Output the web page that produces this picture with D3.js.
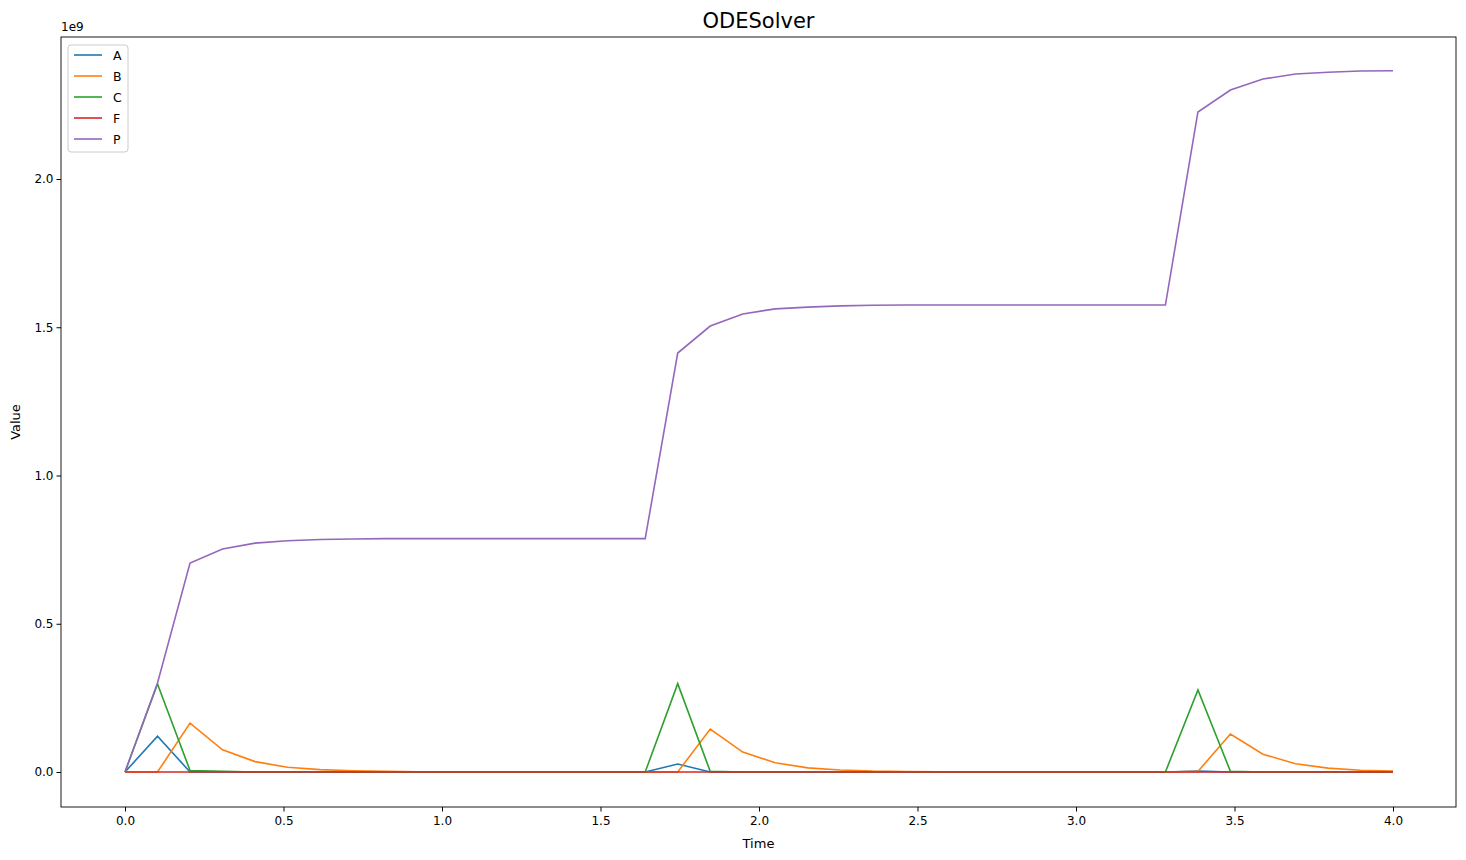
<!DOCTYPE html>
<html><head><meta charset="utf-8">
<script src="https://cdn.jsdelivr.net/npm/d3@7"></script>
<style>body{margin:0;background:#fff;font-family:"DejaVu Sans",sans-serif}</style>
</head><body><svg id="c" width="1466" height="860"></svg>
<script>
const N = 40;
const time = Array.from({length: N}, (_, i) => i * 4 / 39);
const seriesNames = ["A", "B", "C", "F", "P"];
const colors = ["#1f77b4", "#ff7f0e", "#2ca02c", "#d62728", "#9467bd"];
const valA = [0,0.121,0,0,0,0,0,0,0,0,0,0,0,0,0,0,0,0.027,0,0,0,0,0,0,0,0,0,0,0,0,0,0,0,0.003,0,0,0,0,0,0];
const valB = [0,0,0.165,0.075,0.035,0.016,0.008,0.004,0.002,0.001,0,0,0,0,0,0,0,0,0.145,0.067,0.031,0.014,0.007,0.003,0.0015,0.001,0,0,0,0,0,0,0,0.002,0.128,0.06,0.028,0.013,0.006,0.003];
const valC = [0,0.297,0.005,0.002,0,0,0,0,0,0,0,0,0,0,0,0,0,0.298,0.002,0,0,0,0,0,0,0,0,0,0,0,0,0,0,0.277,0.002,0,0,0,0,0];
const valF = new Array(N).fill(0);
const valP = [0,0.30,0.705,0.752,0.772,0.780,0.784,0.786,0.787,0.787,0.787,0.787,0.787,0.787,0.787,0.787,0.787,1.413,1.504,1.545,1.562,1.568,1.572,1.574,1.575,1.575,1.575,1.575,1.575,1.575,1.575,1.575,1.575,2.226,2.300,2.337,2.354,2.360,2.364,2.365];
const values = [valA, valB, valC, valF, valP];
const xTicks = [0,0.5,1,1.5,2,2.5,3,3.5,4];
const yTicks = [0,0.5,1,1.5,2];

const svg = d3.select("#c");
const L=61, R=1456, T=37, B=807;
const x = d3.scaleLinear().domain([0,4]).range([125,1393]);
const y = d3.scaleLinear().domain([0,2]).range([772,179]);

values.forEach((v,k)=>{
  svg.append("path").datum(v).attr("fill","none").attr("stroke",colors[k]).attr("stroke-width",1.6)
    .attr("d", d3.line().x((d,i)=>x(time[i])).y(d=>y(d)));
});
svg.append("rect").attr("x",L).attr("y",T).attr("width",R-L).attr("height",B-T).attr("fill","none").attr("stroke","#000").attr("stroke-width",0.9);

const xa = svg.append("g").attr("transform",`translate(0,${B})`).call(d3.axisBottom(x).tickValues(xTicks).tickFormat(d3.format(".1f")).tickSize(4.5).tickSizeOuter(0));
const ya = svg.append("g").attr("transform",`translate(${L},0)`).call(d3.axisLeft(y).tickValues(yTicks).tickFormat(d3.format(".1f")).tickSize(4.5).tickSizeOuter(0));
[xa,ya].forEach(a=>{a.select(".domain").remove();a.selectAll("text").attr("font-size",12).attr("font-family","DejaVu Sans").attr("fill","#000");});
xa.selectAll("text").attr("dy","0.9em");

svg.append("text").attr("x",(L+R)/2).attr("y",28).attr("text-anchor","middle").attr("font-size",21).text("ODESolver");
svg.append("text").attr("x",(L+R)/2).attr("y",848).attr("text-anchor","middle").attr("font-size",13).text("Time");
svg.append("text").attr("transform","translate(20,422) rotate(-90)").attr("text-anchor","middle").attr("font-size",13).text("Value");
svg.append("text").attr("x",61).attr("y",31).attr("font-size",12).text("1e9");

const lg = svg.append("g").attr("transform","translate(68,45)");
lg.append("rect").attr("width",60).attr("height",107).attr("rx",3).attr("fill","#fff").attr("stroke","#ccc");
seriesNames.forEach((n,k)=>{
  const yy = 10 + k*21;
  lg.append("line").attr("x1",6).attr("x2",34).attr("y1",yy).attr("y2",yy).attr("stroke",colors[k]).attr("stroke-width",1.6);
  lg.append("text").attr("x",45).attr("y",yy+4.5).attr("font-size",12.5).text(n);
});
</script></body></html>
